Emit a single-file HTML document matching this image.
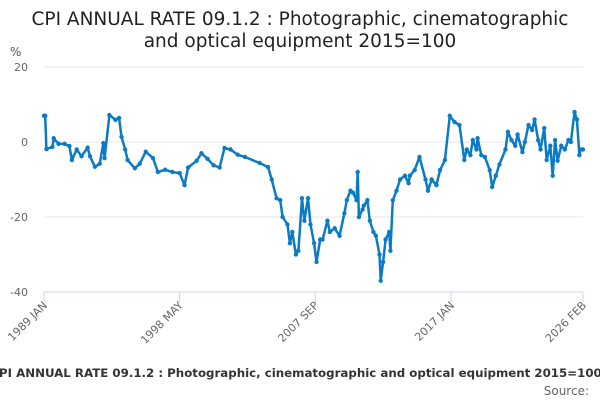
<!DOCTYPE html>
<html><head><meta charset="utf-8"><style>
body{margin:0;width:600px;height:400px;overflow:hidden;background:#fff;font-family:"DejaVu Sans","Liberation Sans",sans-serif}
</style></head><body>
<svg width="600" height="400" id="c" style="position:absolute;left:0;top:0;font-family:'DejaVu Sans','Liberation Sans',sans-serif">
<text x="300" y="25" text-anchor="middle" font-size="18.5" fill="#222">CPI ANNUAL RATE 09.1.2 : Photographic, cinematographic</text>
<text x="300" y="47" text-anchor="middle" font-size="18.5" fill="#222">and optical equipment 2015=100</text>
<text x="10" y="56" font-size="12" fill="#555">%</text>
<text x="296" y="377" text-anchor="middle" font-size="11.8" font-weight="bold" fill="#333">CPI ANNUAL RATE 09.1.2 : Photographic, cinematographic and optical equipment 2015=100</text>
<text x="589" y="395" text-anchor="end" font-size="12" fill="#666">Source:</text>
</svg>
<script>
const months=[0,1,2,7,8,12,17,21,23,27,31,36,38,42,46,49,50,54,59,62,64,67,69,75,79,84,90,94,100,106,112,116,119,126,130,135,140,145,149,154,160,166,178,185,188,192,195,197,201,203,205,208,210,213,215,218,220,223,225,228,230,234,236,240,244,248,250,253,255,258,259,260,263,264,267,269,272,274,277,278,280,282,285,286,288,291,294,298,301,302,306,310,315,317,320,324,327,331,335,339,343,347,349,352,354,357,358,361,364,368,370,373,376,381,383,386,389,391,395,397,400,403,405,408,410,413,415,418,420,422,424,427,430,433,435,438,440,442,443,445];
const values=[7,7,-1.9,-1.3,1,-0.5,-0.5,-1.1,-4.8,-2,-3.8,-1.5,-3.8,-6.6,-5.8,-0.3,-4.3,7.2,5.9,6.4,1.4,-2,-4.8,-7,-5.8,-2.6,-4.3,-8,-7.4,-8,-8.3,-11.5,-6.8,-5,-3,-4.5,-6.2,-6.8,-1.6,-2,-3.4,-4,-5.6,-6.7,-10,-15,-15.5,-20,-22,-27,-24,-30,-29,-15,-21,-15,-22,-27,-32,-26,-26,-21,-24,-23,-25,-19,-15.5,-13,-13.5,-15.5,-8,-20,-18,-17,-15.5,-21,-24,-25,-30,-37,-32,-26,-24,-29,-15.5,-13,-10,-9,-11,-9,-7.5,-4,-10,-13,-10,-11.5,-7.5,-4.8,7,5.3,4.5,-4.8,-2,-3.5,0.5,-2,1,-3.5,-4,-7.5,-12,-9,-6,-2,2.7,0.5,-1,2,-2.7,0,4.5,3.2,6,0.5,-2,3.7,-4.8,-1,-9,0.5,-5,-1,-2,0.5,0,8,6,-3.5,-2,-2];
const yTicks=[20,0,-20,-40];
const xTickMonths=[0,112,224,336,445];
const xTickLabels=["1989 JAN","1998 MAY","2007 SEP","2017 JAN","2026 FEB"];
const NS="http://www.w3.org/2000/svg",svg=document.getElementById('c');
const X0=44,X1=583,MMAX=445,Y0=142,PX=3.75;
const xs=m=>X0+(X1-X0)*m/MMAX, ys=v=>Y0-v*PX;
function mk(t,a){const e=document.createElementNS(NS,t);for(const k in a)e.setAttribute(k,a[k]);svg.appendChild(e);return e;}
yTicks.forEach(v=>{
 const g=mk('line',{x1:X0,x2:X1,y1:ys(v),y2:ys(v),stroke:v===-40?'#ccd6eb':'#e6e6e6','stroke-width':1});
 
 
 const t=mk('text',{x:28,y:ys(v)+4,'text-anchor':'end','font-size':11,fill:'#666'});t.textContent=v;
 
 
});
xTickMonths.forEach((m,i)=>{
 const x=xs(m);
 const l=mk('line',{x1:x,x2:x,y1:292,y2:302,stroke:'#ccd6eb'});
 
 
 const t=mk('text',{x:x+4,y:306,'text-anchor':'end','font-size':11,fill:'#666',transform:`rotate(-45 ${x+4} 306)`});t.textContent=xTickLabels[i];
 
 
});
const d=months.map((m,i)=>(i?'L':'M')+xs(m).toFixed(1)+' '+ys(values[i]).toFixed(1)).join('');
const p=mk('path',{d:d,fill:'none',stroke:'#0a7bc4','stroke-width':2.5,'stroke-linejoin':'round'});


months.forEach((m,i)=>{
 const c=mk('circle',{cx:xs(m),cy:ys(values[i]),r:2.2,fill:'#0a7bc4'});
 
 
});
</script>
</body></html>
